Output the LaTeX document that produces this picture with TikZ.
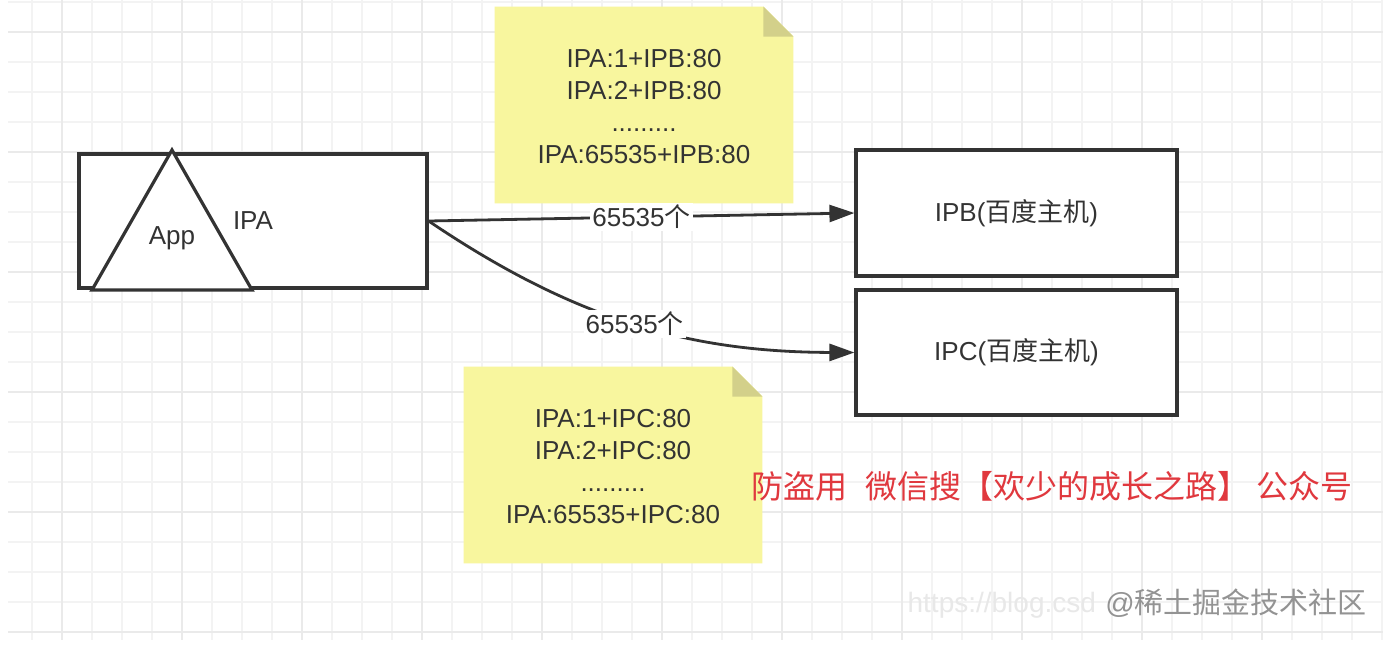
\documentclass[tikz,border=0pt]{standalone}
\usepackage{fontspec}
\setmainfont{Liberation Sans}
\newfontfamily\cjk{Noto Sans CJK SC}
\usepackage{tikz}
\usetikzlibrary{positioning,arrows.meta,backgrounds}
\definecolor{inkgray}{HTML}{333333}
\definecolor{noteyellow}{HTML}{F8F69E}
\definecolor{notefold}{HTML}{D3D08A}
\definecolor{gridgray}{HTML}{F3F3F3}
\definecolor{gridmajor}{HTML}{EAEAEA}
\definecolor{warnred}{HTML}{E0383E}

\begin{document}
\begin{tikzpicture}[
x=0.5pt, y=-0.5pt,
box/.style={draw=inkgray, line width=1.6pt, inner sep=0pt, font=\fontsize{13}{16}\selectfont, text=inkgray},
stickynote/.style={inner sep=0pt, minimum width=149pt, minimum height=98pt, align=center, font=\fontsize{13}{16}\selectfont, text=inkgray},
arrow/.style={-{Triangle[length=12.5pt,width=8.5pt]}, line width=1.4pt, inkgray},
lbl/.style={fill=white, inner sep=1pt, font=\fontsize{13}{16}\selectfont, text=inkgray},
gridline/.style={draw=gridgray, line width=0.55pt},
gridbold/.style={draw=gridmajor, line width=0.65pt}
]
\useasboundingbox (0,0) rectangle (1400,655);

% paper grid
\begin{scope}[on background layer]
\fill[white] (0,0) rectangle (1400,655);
\foreach \gy in {2,32,...,632} \draw[gridline] (8,\gy) -- (1383,\gy);
\foreach \gx in {32,62,...,1382} \draw[gridline] (\gx,0) -- (\gx,640);
\foreach \gy in {32,152,...,632} \draw[gridbold] (8,\gy) -- (1383,\gy);
\foreach \gx in {62,182,...,1262} \draw[gridbold] (\gx,0) -- (\gx,640);
\end{scope}

% client side
\node[box, minimum width=174pt, minimum height=67pt, fill=white] (ipa) at (253,221) {IPA};
\coordinate (apex) at (172,150);
\coordinate (baseR) at (252,290);
\coordinate (baseL) at (92,290);
\draw[inkgray, line width=1.6pt, fill=white] (apex) -- (baseR) -- (baseL) -- cycle;
\node[font=\fontsize{13}{16}\selectfont, text=inkgray] (app) at (172,238) {App};

% servers
\node[box, minimum width=160.5pt, minimum height=63pt, fill=white] (ipb) at (1016.5,213) {IPB({\cjk 百度主机})};
\node[box, minimum width=160.5pt, minimum height=62.5pt, fill=white] (ipc) at (1016.5,352.5) {IPC({\cjk 百度主机})};

% notes
\node[stickynote] (noteb) at (644,107) {IPA:1+IPB:80\\IPA:2+IPB:80\\.........\\IPA:65535+IPB:80};
\node[stickynote] (notec) at (613,467) {IPA:1+IPC:80\\IPA:2+IPC:80\\.........\\IPA:65535+IPC:80};
\begin{scope}[on background layer]
\foreach \nn in {noteb,notec} {
  \fill[noteyellow] ([yshift=1pt]\nn.north west) -- ([xshift=-15pt,yshift=1pt]\nn.north east) -- ([yshift=-14pt]\nn.north east) -- ([yshift=1pt]\nn.south east) -- ([yshift=1pt]\nn.south west) -- cycle;
  \fill[notefold] ([xshift=-15pt,yshift=1pt]\nn.north east) -- ([xshift=-15pt,yshift=-14pt]\nn.north east) -- ([yshift=-14pt]\nn.north east) -- cycle;
}
\end{scope}

% connections
\draw[arrow] (ipa.east) -- node[lbl] {65535{\cjk 个}} (ipb.west);
\draw[arrow] (ipa.east) .. controls (575,320) and (690,352) .. node[lbl] {65535{\cjk 个}} (ipc.west);

% watermarks
\node[text=warnred, font=\fontsize{16}{18}\cjk] (notice) at (1052,486) {防盗用\hspace{9pt}微信搜【欢少的成长之路】 公众号};
\node[anchor=east, text=gray!18, font=\fontsize{14}{16}\selectfont] (url) at (1103,605) {https://blog.csd};
\node[text=gray!85, font=\fontsize{14.5}{16}\selectfont] (site) at (1236,603) {@{\cjk 稀土掘金技术社区}};
\end{tikzpicture}
\end{document}
